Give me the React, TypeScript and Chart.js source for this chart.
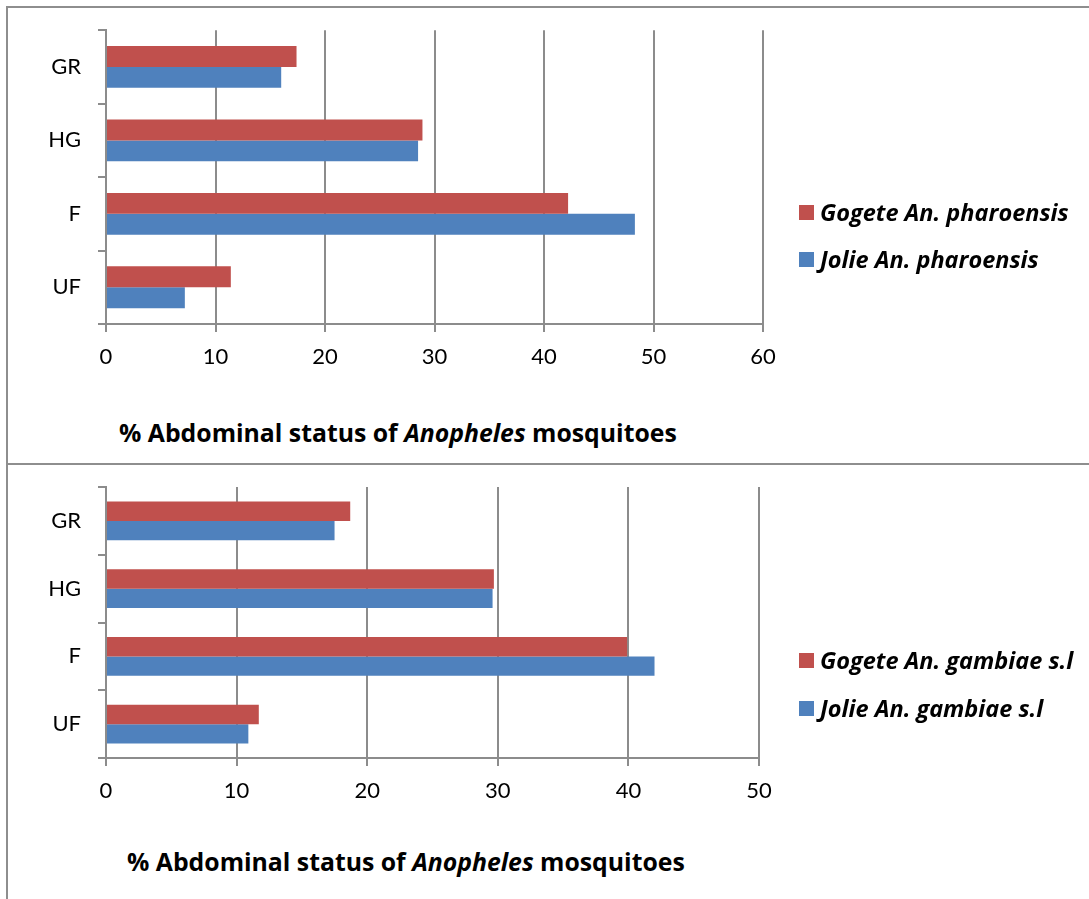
import React, { useEffect, useRef } from "react";
import { Chart, registerables } from "chart.js";

Chart.register(...registerables);

// Abdominal status categories, top to bottom
const categories = ["GR", "HG", "F", "UF"];

// An. pharoensis (%)
const pharoGogete = [17.4, 28.9, 42.2, 11.4];
const pharoJolie = [16.0, 28.5, 48.3, 7.2];
const pharoLabels = ["Gogete An. pharoensis", "Jolie An. pharoensis"];
const pharoMax = 60;

// An. gambiae s.l (%)
const gambGogete = [18.7, 29.7, 39.9, 11.7];
const gambJolie = [17.5, 29.6, 42.0, 10.9];
const gambLabels = ["Gogete An. gambiae s.l", "Jolie An. gambiae s.l"];
const gambMax = 50;

const RED = "#C0504D";
const BLUE = "#4F81BD";
const GRID = "#8c8c8c";
const FONT = "Lato, 'Open Sans', sans-serif";
const TEXT_FONT = "'Open Sans', Lato, sans-serif";

type PanelProps = {
  top: number;
  width: number;
  height: number;
  padTop: number;
  padRight: number;
  axisWidth: number;
  axisHeight: number;
  xMax: number;
  gogete: number[];
  jolie: number[];
};

function BarPanel(p: PanelProps) {
  const ref = useRef<HTMLCanvasElement | null>(null);

  useEffect(() => {
    if (!ref.current) return;
    const chart = new Chart(ref.current, {
      type: "bar",
      data: {
        labels: categories,
        datasets: [
          {
            label: "Gogete",
            data: p.gogete,
            backgroundColor: RED,
            borderWidth: 0,
            barPercentage: 1,
            categoryPercentage: 0.57,
          },
          {
            label: "Jolie",
            data: p.jolie,
            backgroundColor: BLUE,
            borderWidth: 0,
            barPercentage: 1,
            categoryPercentage: 0.57,
          },
        ],
      },
      options: {
        indexAxis: "y",
        animation: false,
        responsive: false,
        devicePixelRatio: 1,
        layout: { padding: { top: p.padTop, right: p.padRight, left: 0, bottom: 0 } },
        plugins: {
          legend: { display: false },
          title: { display: false },
          tooltip: { enabled: false },
        },
        scales: {
          x: {
            type: "linear",
            min: 0,
            max: p.xMax,
            ticks: {
              stepSize: 10,
              color: "#000",
              padding: 12,
              font: { family: FONT, size: 22 },
            },
            grid: {
              color: GRID,
              lineWidth: 2,
              drawTicks: true,
              tickLength: 8,
            },
            border: { display: true, color: GRID, width: 2 },
            afterFit: (s: any) => {
              s.height = p.axisHeight;
            },
          },
          y: {
            type: "category",
            ticks: {
              color: "#000",
              padding: 17,
              font: { family: FONT, size: 22 },
            },
            grid: {
              offset: true,
              color: GRID,
              lineWidth: 2,
              drawOnChartArea: false,
              drawTicks: true,
              tickLength: 8,
            },
            border: { display: true, color: GRID, width: 2 },
            afterFit: (s: any) => {
              s.width = p.axisWidth;
            },
          },
        },
      },
    });
    return () => chart.destroy();
  }, []);

  return (
    <canvas
      ref={ref}
      width={p.width}
      height={p.height}
      style={{ position: "absolute", left: 0, top: p.top, width: p.width, height: p.height }}
    />
  );
}

function LegendBlock({ labels, left, ys }: { labels: string[]; left: number; ys: number[] }) {
  const colors = [RED, BLUE];
  return (
    <>
      {labels.map((t, i) => (
        <div
          key={t}
          style={{
            position: "absolute",
            left,
            top: ys[i] - 16,
            height: 32,
            display: "flex",
            alignItems: "center",
            whiteSpace: "nowrap",
            fontFamily: TEXT_FONT,
            fontSize: 23.5,
            fontWeight: 700,
            fontStyle: "italic",
            color: "#000",
          }}
        >
          <span style={{ width: 15, height: 15, background: colors[i], display: "inline-block", marginRight: 6 }} />
          <span>{t}</span>
        </div>
      ))}
    </>
  );
}

function AxisTitle({ left, y }: { left: number; y: number }) {
  return (
    <div
      style={{
        position: "absolute",
        left,
        top: y - 17,
        height: 34,
        lineHeight: "34px",
        whiteSpace: "nowrap",
        fontFamily: TEXT_FONT,
        fontSize: 24.8,
        fontWeight: 700,
        color: "#000",
      }}
    >
      % Abdominal status of <i>Anopheles</i> mosquitoes
    </div>
  );
}

export default function App() {
  return (
    <div
      style={{
        position: "absolute",
        left: 0,
        top: 0,
        width: 1089,
        height: 899,
        overflow: "hidden",
        background: "#fff",
      }}
    >
      <div
        style={{
          position: "absolute",
          left: 6,
          top: 6,
          width: 1200,
          height: 459,
          boxSizing: "border-box",
          border: "2px solid #8e8e8e",
        }}
      />
      <div
        style={{
          position: "absolute",
          left: 6,
          top: 463,
          width: 1200,
          height: 600,
          boxSizing: "border-box",
          border: "2px solid #8e8e8e",
        }}
      />
      <BarPanel
        top={0}
        width={800}
        height={385}
        padTop={27}
        padRight={37}
        axisWidth={106}
        axisHeight={61}
        xMax={pharoMax}
        gogete={pharoGogete}
        jolie={pharoJolie}
      />
      <LegendBlock labels={pharoLabels} left={799} ys={[212, 259]} />
      <AxisTitle left={119} y={432} />

      <BarPanel
        top={450}
        width={800}
        height={370}
        padTop={37}
        padRight={41}
        axisWidth={106}
        axisHeight={62}
        xMax={gambMax}
        gogete={gambGogete}
        jolie={gambJolie}
      />
      <LegendBlock labels={gambLabels} left={799} ys={[660, 708]} />
      <AxisTitle left={127} y={861} />
    </div>
  );
}
